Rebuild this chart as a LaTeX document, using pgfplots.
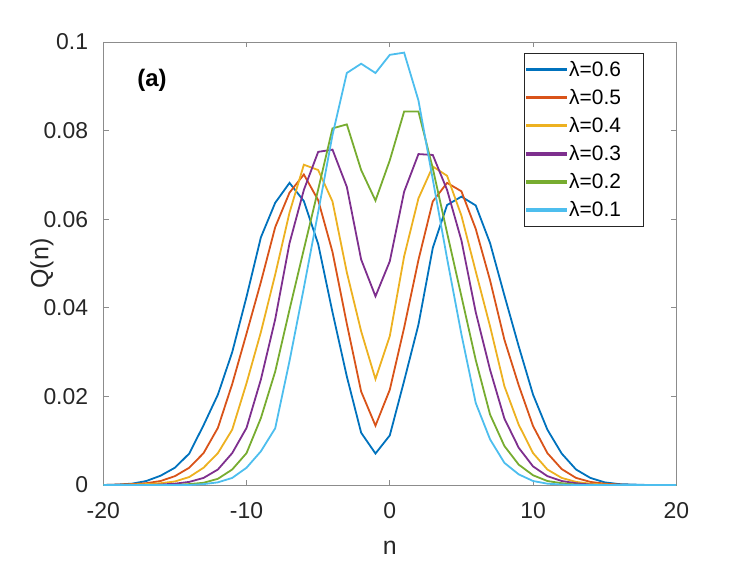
\documentclass[border=0pt]{standalone}
\usepackage{pgfplots}
\pgfplotsset{compat=1.18}
\usepackage{pgfplotstable}
\usepackage{fontspec}
\setmainfont{Liberation Sans}
\definecolor{mB}{rgb}{0,0.447,0.741}
\definecolor{mR}{rgb}{0.85,0.325,0.098}
\definecolor{mY}{rgb}{0.929,0.694,0.125}
\definecolor{mP}{rgb}{0.494,0.184,0.556}
\definecolor{mG}{rgb}{0.466,0.674,0.188}
\definecolor{mL}{rgb}{0.301,0.745,0.933}
\definecolor{axgray}{rgb}{0.55,0.55,0.55}
\definecolor{txt}{rgb}{0.15,0.15,0.15}

\pgfplotstableread{
n q
-20 0.0000
-19 0.0001
-18 0.0003
-17 0.0009
-16 0.0021
-15 0.0039
-14 0.0071
-13 0.0135
-12 0.0204
-11 0.0300
-10 0.0425
-9 0.0559
-8 0.0637
-7 0.0682
-6 0.0641
-5 0.0544
-4 0.0390
-3 0.0245
-2 0.0118
-1 0.0071
0 0.0112
1 0.0235
2 0.0362
3 0.0535
4 0.0632
5 0.0651
6 0.0631
7 0.0546
8 0.0428
9 0.0313
10 0.0204
11 0.0125
12 0.0071
13 0.0035
14 0.0016
15 0.0006
16 0.0002
17 0.0001
18 0.0000
19 0.0000
20 0.0000
}\tabA

\pgfplotstableread{
n q
-20 0.0000
-19 0.0001
-18 0.0002
-17 0.0004
-16 0.0009
-15 0.0020
-14 0.0039
-13 0.0072
-12 0.0129
-11 0.0228
-10 0.0342
-9 0.0458
-8 0.0582
-7 0.0660
-6 0.0701
-5 0.0643
-4 0.0526
-3 0.0364
-2 0.0211
-1 0.0134
0 0.0215
1 0.0355
2 0.0508
3 0.0640
4 0.0682
5 0.0663
6 0.0578
7 0.0462
8 0.0328
9 0.0225
10 0.0133
11 0.0072
12 0.0036
13 0.0016
14 0.0007
15 0.0003
16 0.0001
17 0.0000
18 0.0000
19 0.0000
20 0.0000
}\tabB

\pgfplotstableread{
n q
-20 0.0000
-19 0.0000
-18 0.0001
-17 0.0002
-16 0.0004
-15 0.0008
-14 0.0018
-13 0.0039
-12 0.0072
-11 0.0125
-10 0.0230
-9 0.0345
-8 0.0475
-7 0.0615
-6 0.0723
-5 0.0711
-4 0.0640
-3 0.0480
-2 0.0347
-1 0.0239
0 0.0336
1 0.0516
2 0.0647
3 0.0719
4 0.0698
5 0.0608
6 0.0482
7 0.0358
8 0.0223
9 0.0136
10 0.0072
11 0.0035
12 0.0016
13 0.0007
14 0.0003
15 0.0001
16 0.0000
17 0.0000
18 0.0000
19 0.0000
20 0.0000
}\tabC

\pgfplotstableread{
n q
-20 0.0000
-19 0.0000
-18 0.0000
-17 0.0000
-16 0.0001
-15 0.0003
-14 0.0007
-13 0.0016
-12 0.0035
-11 0.0072
-10 0.0129
-9 0.0238
-8 0.0374
-7 0.0546
-6 0.0666
-5 0.0752
-4 0.0757
-3 0.0673
-2 0.0509
-1 0.0426
0 0.0505
1 0.0662
2 0.0747
3 0.0745
4 0.0666
5 0.0552
6 0.0390
7 0.0260
8 0.0150
9 0.0084
10 0.0042
11 0.0020
12 0.0009
13 0.0004
14 0.0001
15 0.0000
16 0.0000
17 0.0000
18 0.0000
19 0.0000
20 0.0000
}\tabD

\pgfplotstableread{
n q
-20 0.0000
-19 0.0000
-18 0.0000
-17 0.0000
-16 0.0000
-15 0.0000
-14 0.0002
-13 0.0005
-12 0.0014
-11 0.0035
-10 0.0072
-9 0.0151
-8 0.0256
-7 0.0396
-6 0.0532
-5 0.0667
-4 0.0805
-3 0.0814
-2 0.0711
-1 0.0642
0 0.0733
1 0.0843
2 0.0843
3 0.0715
4 0.0569
5 0.0426
6 0.0282
7 0.0159
8 0.0088
9 0.0046
10 0.0022
11 0.0009
12 0.0004
13 0.0001
14 0.0000
15 0.0000
16 0.0000
17 0.0000
18 0.0000
19 0.0000
20 0.0000
}\tabE

\pgfplotstableread{
n q
-20 0.0000
-19 0.0000
-18 0.0000
-17 0.0000
-16 0.0000
-15 0.0000
-14 0.0000
-13 0.0002
-12 0.0006
-11 0.0016
-10 0.0039
-9 0.0076
-8 0.0128
-7 0.0280
-6 0.0445
-5 0.0616
-4 0.0790
-3 0.0930
-2 0.0951
-1 0.0930
0 0.0971
1 0.0976
2 0.0868
3 0.0690
4 0.0511
5 0.0340
6 0.0185
7 0.0103
8 0.0050
9 0.0024
10 0.0009
11 0.0003
12 0.0001
13 0.0000
14 0.0000
15 0.0000
16 0.0000
17 0.0000
18 0.0000
19 0.0000
20 0.0000
}\tabF

\begin{document}
\begin{tikzpicture}
\path[use as bounding box] (-103.3bp,-76bp) rectangle (643.7bp,485bp);
\begin{axis}[
  scale only axis,
  width=573bp, height=443bp,
  xmin=-20, xmax=20, ymin=0, ymax=0.1,
  xtick={-20,-10,0,10,20},
  xticklabels={-20,-10,0,10,20},
  ytick={0,0.02,0.04,0.06,0.08,0.1},
  yticklabels={0,0.02,0.04,0.06,0.08,0.1},
  /pgf/number format/assume math mode=true,
  tick align=inside,
  major tick length=5.5bp,
  axis line style={axgray, line width=0.7bp},
  every tick/.style={axgray, line width=0.7bp},
  tick label style={font=\fontsize{23}{23}\selectfont, text=txt},
  xticklabel style={anchor=north, inner sep=0pt, yshift=-17bp},
  yticklabel style={anchor=east, inner sep=0pt, xshift=-15bp},
  xlabel={n},
  ylabel={Q(n)},
  label style={font=\fontsize{25}{25}\selectfont, text=txt},
  xlabel style={at={(axis description cs:0.5,-0.141)}, anchor=center},
  ylabel style={at={(axis description cs:-0.107,0.5)}, anchor=center},
  legend style={at={(rel axis cs:0.9424,0.9758)}, anchor=north east,
    draw=txt, line width=0.6bp, fill=white,
    font=\fontsize{21}{21}\selectfont, text=black,
    inner xsep=2bp, inner ysep=6bp, row sep=7.5bp,
    nodes={inner sep=2bp},
    /tikz/every even column/.append style={column sep=0bp}},
  legend cell align=left,
  legend image code/.code={\fill[#1] (0bp,-0.9bp) rectangle (39bp,0.9bp);},
]
\addplot[mB, line width=1.8bp] table[x=n,y=q] {\tabA};
\addlegendentry{λ=0.6\kern18bp}
\addplot[mR, line width=1.8bp] table[x=n,y=q] {\tabB};
\addlegendentry{λ=0.5\kern18bp}
\addplot[mY, line width=1.8bp] table[x=n,y=q] {\tabC};
\addlegendentry{λ=0.4\kern18bp}
\addplot[mP, line width=1.8bp] table[x=n,y=q] {\tabD};
\addlegendentry{λ=0.3\kern18bp}
\addplot[mG, line width=1.8bp] table[x=n,y=q] {\tabE};
\addlegendentry{λ=0.2\kern18bp}
\addplot[mL, line width=1.8bp] table[x=n,y=q] {\tabF};
\addlegendentry{λ=0.1\kern18bp}
\node[font=\bfseries\fontsize{24}{24}\selectfont, text=black] at (axis cs:-16.6,0.0913) {(a)};
\end{axis}
\end{tikzpicture}
\end{document}
